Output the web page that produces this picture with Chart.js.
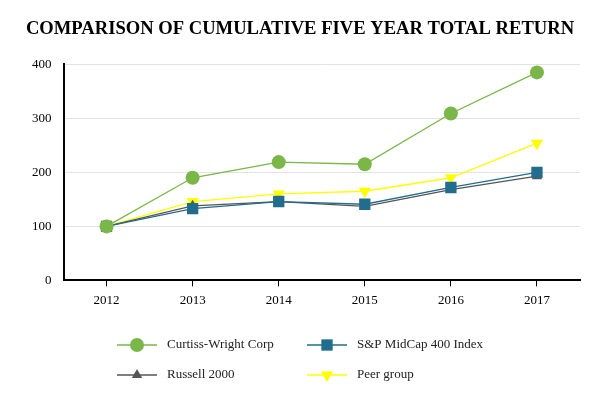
<!DOCTYPE html>
<html lang="en">
<head>
    <title>Comparison of Cumulative Five Year Total Return</title>
    <script src="https://cdn.jsdelivr.net/npm/chart.js"></script>
    <style>
        body { margin: 0; background: #fff; }
        #wrap { width: 613px; height: 414px; }
    </style>
</head>
<body>
    <div id="wrap"><canvas id="chart" width="613" height="414"></canvas></div>
    <script>
        // data
        const years = ['2012', '2013', '2014', '2015', '2016', '2017'];
        const curtissWright = [100, 190, 219, 215, 309, 385];
        const spMidCap400 = [100, 133, 146, 141, 172, 200];
        const russell2000 = [100, 138, 146, 137, 168, 193];
        const peerGroup = [100, 146, 160, 165, 190, 254];
        const yTicks = [0, 100, 200, 300, 400];

        const serif = "'Liberation Serif', 'Times New Roman', serif";

        function series(label, data, color, pointStyle, radius, rotation) {
            return {
                label: label,
                data: data,
                borderColor: color,
                backgroundColor: color,
                borderWidth: 1.3,
                pointStyle: pointStyle,
                pointRadius: radius,
                pointHoverRadius: radius,
                pointRotation: rotation || 0,
                pointBorderWidth: 0,
                tension: 0
            };
        }

        // legend drawn as a 2x2 grid under the axis
        const gridLegend = {
            id: 'gridLegend',
            afterDraw(chart) {
                const ctx = chart.ctx;
                const cols = [117, 307];
                const rows = [345, 375];
                chart.data.datasets.forEach((ds, i) => {
                    const x = cols[i % 2];
                    const y = rows[Math.floor(i / 2)];
                    ctx.save();
                    ctx.strokeStyle = ds.borderColor;
                    ctx.lineWidth = 1.5;
                    ctx.beginPath();
                    ctx.moveTo(x, y);
                    ctx.lineTo(x + 40, y);
                    ctx.stroke();
                    ctx.fillStyle = ds.backgroundColor;
                    ctx.strokeStyle = ds.backgroundColor;
                    ctx.lineWidth = 0;
                    Chart.helpers.drawPoint(ctx, {
                        pointStyle: ds.pointStyle,
                        radius: ds.pointRadius,
                        rotation: ds.pointRotation,
                        borderWidth: 0
                    }, x + 20, y);
                    ctx.fillStyle = '#222';
                    ctx.font = '13px ' + serif;
                    ctx.textBaseline = 'middle';
                    ctx.fillText(ds.label, x + 50, y);
                    ctx.restore();
                });
            }
        };

        new Chart(document.getElementById('chart').getContext('2d'), {
            type: 'line',
            data: {
                labels: years,
                datasets: [
                    series('Curtiss-Wright Corp', curtissWright, '#7ab648', 'circle', 7),
                    series('S&P MidCap 400 Index', spMidCap400, '#226c8e', 'rect', 8),
                    series('Russell 2000', russell2000, '#555555', 'triangle', 6),
                    series('Peer group', peerGroup, '#ffff00', 'triangle', 7, 180)
                ]
            },
            options: {
                responsive: false,
                animation: false,
                layout: { padding: { left: 20, right: 33, top: 0, bottom: 100 } },
                plugins: {
                    legend: { display: false },
                    tooltip: { enabled: false },
                    title: {
                        display: true,
                        text: 'COMPARISON OF CUMULATIVE FIVE YEAR TOTAL RETURN',
                        color: '#000',
                        font: { family: serif, size: 18.6, weight: 'bold' },
                        padding: { top: 18, bottom: 24 }
                    }
                },
                scales: {
                    x: {
                        offset: true,
                        grid: { drawOnChartArea: false, drawTicks: true, tickLength: 6, tickColor: '#000', offset: false },
                        border: { color: '#000', width: 2 },
                        ticks: { color: '#000', font: { family: serif, size: 13 }, padding: 6 }
                    },
                    y: {
                        min: 0,
                        max: 400,
                        afterBuildTicks(axis) { axis.ticks = yTicks.map(v => ({ value: v })); },
                        grid: { color: '#e3e3e3', drawTicks: false },
                        border: { color: '#000', width: 2 },
                        ticks: { color: '#000', font: { family: serif, size: 13 }, padding: 12 }
                    }
                }
            },
            plugins: [gridLegend]
        });
    </script>
</body>
</html>
